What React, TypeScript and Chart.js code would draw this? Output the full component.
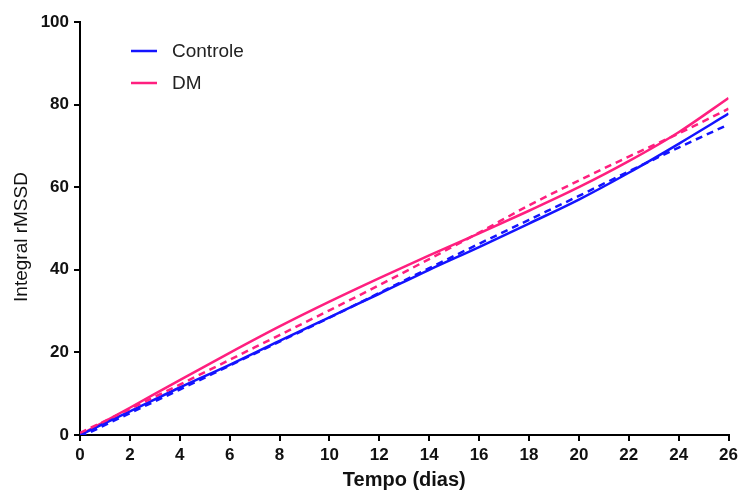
import React, { useEffect, useRef } from "react";
import { Chart, registerables } from "chart.js";

Chart.register(...registerables);

const days = [0, 2, 4, 6, 8, 10, 12, 14, 16, 18, 20, 22, 24, 26];
const controle = [0, 5.7, 11.5, 17, 22.8, 28.5, 34.2, 40, 45.5, 51.2, 57, 63.5, 70.5, 77.8];
const dm = [0, 6.6, 13.3, 19.9, 26.3, 32.3, 38, 43.5, 48.8, 54.3, 60, 66.3, 73.3, 81.6];
const controleFit = [-0.5, 5.3, 11, 16.8, 22.6, 28.4, 34.4, 40.4, 46.3, 52.1, 57.9, 63.8, 69.6, 75.2];
const dmFit = [0.5, 6.3, 12.2, 18.2, 24.2, 30.2, 36.3, 42.6, 49, 55.6, 61.6, 67.4, 73, 79];
const legendLabels = ["Controle", "DM"];
const yTicks = [0, 20, 40, 60, 80, 100];
const yTitle = "Integral rMSSD";
const xTitle = "Tempo (dias)";

const BLUE = "#1414ff";
const PINK = "#ff1f7f";
const FONT = 'Arial, "Liberation Sans", sans-serif';

const pts = (ys: number[]) => days.map((d, i) => ({ x: d, y: ys[i] }));

const legendPlugin = {
  id: "insideLegend",
  afterDraw(chart: any) {
    const { ctx, chartArea } = chart;
    const colors = [BLUE, PINK];
    ctx.save();
    legendLabels.forEach((lab, i) => {
      const y = chartArea.top + 29 + i * 32;
      ctx.strokeStyle = colors[i];
      ctx.lineWidth = 2.5;
      ctx.setLineDash([]);
      ctx.beginPath();
      ctx.moveTo(chartArea.left + 51, y);
      ctx.lineTo(chartArea.left + 77, y);
      ctx.stroke();
      ctx.fillStyle = "#222";
      ctx.font = `19px ${FONT}`;
      ctx.textBaseline = "middle";
      ctx.textAlign = "left";
      ctx.fillText(lab, chartArea.left + 92, y + 1);
    });
    // y axis title
    ctx.translate(22, chartArea.top + 215);
    ctx.rotate(-Math.PI / 2);
    ctx.fillStyle = "#111";
    ctx.font = `19px ${FONT}`;
    ctx.textAlign = "center";
    ctx.textBaseline = "middle";
    ctx.fillText(yTitle, 0, 0);
    ctx.restore();
  },
};

export default function App() {
  const ref = useRef<HTMLCanvasElement>(null);
  useEffect(() => {
    document.body.style.margin = "0";
    if (!ref.current) return;
    const line = (data: number[], color: string, dashed: boolean) => ({
      data: pts(data),
      borderColor: color,
      backgroundColor: color,
      borderWidth: 2.5,
      borderDash: dashed ? [7, 5] : [],
      pointRadius: 0,
      cubicInterpolationMode: "monotone" as const,
      fill: false,
    });
    const chart = new Chart(ref.current, {
      type: "line",
      data: {
        datasets: [
          line(controleFit, BLUE, true),
          line(dmFit, PINK, true),
          line(controle, BLUE, false),
          line(dm, PINK, false),
        ],
      },
      options: {
        animation: false,
        responsive: false,
        layout: { padding: { top: 22, right: 11, left: 0, bottom: 0 } },
        plugins: { legend: { display: false }, tooltip: { enabled: false } },
        scales: {
          x: {
            type: "linear",
            min: 0,
            max: 26,
            afterFit: (s: any) => {
              s.height = 57;
            },
            ticks: {
              stepSize: 2,
              color: "#111",
              font: { family: FONT, size: 17, weight: "bold" },
              padding: 4,
              maxRotation: 0,
            },
            grid: { drawOnChartArea: false, tickLength: 6, color: "#000", lineWidth: 2 },
            border: { display: true, color: "#000", width: 2 },
            title: {
              display: true,
              text: xTitle,
              color: "#111",
              font: { family: FONT, size: 20, weight: "bold" },
              padding: { top: 2, bottom: 0 },
            },
          },
          y: {
            type: "linear",
            min: 0,
            max: 100,
            afterFit: (s: any) => {
              s.width = 80;
            },
            afterBuildTicks: (s: any) => {
              s.ticks = yTicks.map((v) => ({ value: v }));
            },
            ticks: {
              color: "#111",
              font: { family: FONT, size: 17, weight: "bold" },
              padding: 5,
            },
            grid: { drawOnChartArea: false, tickLength: 6, color: "#000", lineWidth: 2 },
            border: { display: true, color: "#000", width: 2 },
            title: { display: false },
          },
        },
      },
      plugins: [legendPlugin],
    });
    return () => chart.destroy();
  }, []);
  return (
    <div style={{ position: "absolute", left: 0, top: 0, width: 742, height: 492 }}>
      <canvas ref={ref} width={742} height={492} />
    </div>
  );
}
